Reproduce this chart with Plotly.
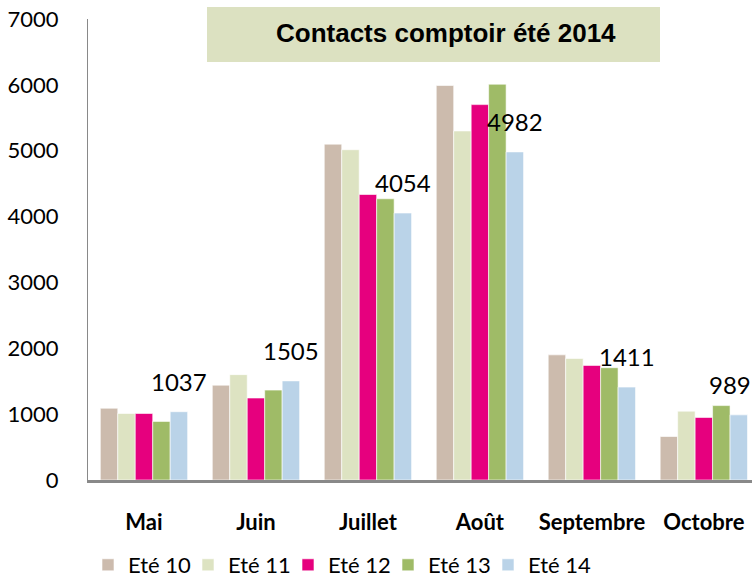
import plotly.graph_objects as go

months = ["Mai", "Juin", "Juillet", "Août", "Septembre", "Octobre"]
series_names = ["Eté 10", "Eté 11", "Eté 12", "Eté 13", "Eté 14"]
ete10 = [1090, 1440, 5100, 5990, 1900, 660]
ete11 = [1010, 1600, 5015, 5300, 1845, 1045]
ete12 = [1010, 1245, 4335, 5700, 1740, 950]
ete13 = [890, 1365, 4270, 6010, 1705, 1130]
ete14 = [1037, 1505, 4054, 4982, 1411, 989]
colors = ["#CCBBAD", "#DDE3C2", "#E6007E", "#9FBB67", "#BAD3E8"]
title_text = "Contacts comptoir été 2014"

all_series = [ete10, ete11, ete12, ete13, ete14]

legend_style = dict(orientation="h", y=(480 - 565) / 461,
                    xanchor="left", yanchor="middle",
                    font=dict(family="Lato", size=22, color="#000000"),
                    bgcolor="rgba(0,0,0,0)")

fig = go.Figure()
legend_layouts = {}
for i, (name, vals, col) in enumerate(zip(series_names, all_series, colors)):
    lg = "legend" if i == 0 else "legend%d" % (i + 1)
    legend_layouts[lg] = dict(x=(i * 100) / 664, **legend_style)
    fig.add_trace(go.Bar(
        x=months, y=vals, name=name,
        marker=dict(color=col, line=dict(color="rgba(255,255,255,0.6)", width=1)),
        hoverinfo="skip",
        legend=lg,
    ))

# data labels on the last series (last one nudged left to stay inside the frame)
for j, (m, v) in enumerate(zip(months, ete14)):
    fig.add_annotation(
        x=m, y=v, xref="x", yref="y", text=str(v), showarrow=False,
        xshift=35 if j < len(months) - 1 else 26, yshift=14, yanchor="bottom",
        font=dict(family="Lato", size=24, color="#000000"),
    )

# title box
fig.add_shape(type="rect", xref="paper", yref="paper",
              x0=(207 - 88) / 664, x1=(660 - 88) / 664,
              y0=(480 - 62) / 461, y1=(480 - 7) / 461,
              fillcolor="#DCE1C1", line=dict(width=0), layer="below")
fig.add_annotation(xref="paper", yref="paper",
                   x=(446 - 88) / 664, y=(480 - 33) / 461,
                   text="<b>" + title_text + "</b>", showarrow=False,
                   xanchor="center", yanchor="middle",
                   font=dict(family="Liberation Sans, Arial", size=26, color="#000000"))

fig.update_layout(
    width=752, height=578,
    margin=dict(l=88, r=0, t=19, b=98, pad=0, autoexpand=False),
    paper_bgcolor="white", plot_bgcolor="white",
    barmode="group", bargap=0.22, bargroupgap=0,
    showlegend=True,
    **legend_layouts,
    xaxis=dict(range=[-0.5, 5.43], showline=True, linecolor="#898989", linewidth=2.5,
               ticks="", showgrid=False, ticklabelstandoff=21, automargin=False,
               tickfont=dict(family="Lato", size=22, color="#000000", weight="bold")),
    yaxis=dict(range=[0, 7000], dtick=1000, showline=True, linecolor="#898989", linewidth=1,
               ticks="", showgrid=False, zeroline=False, ticklabelstandoff=24, automargin=False,
               ticklabeloverflow="allow",
               tickfont=dict(family="Lato", size=22, color="#000000")),
)

fig.write_html("out.html", config={"displayModeBar": False},
               post_script="document.body.style.margin='0';document.body.style.overflow='hidden';")
